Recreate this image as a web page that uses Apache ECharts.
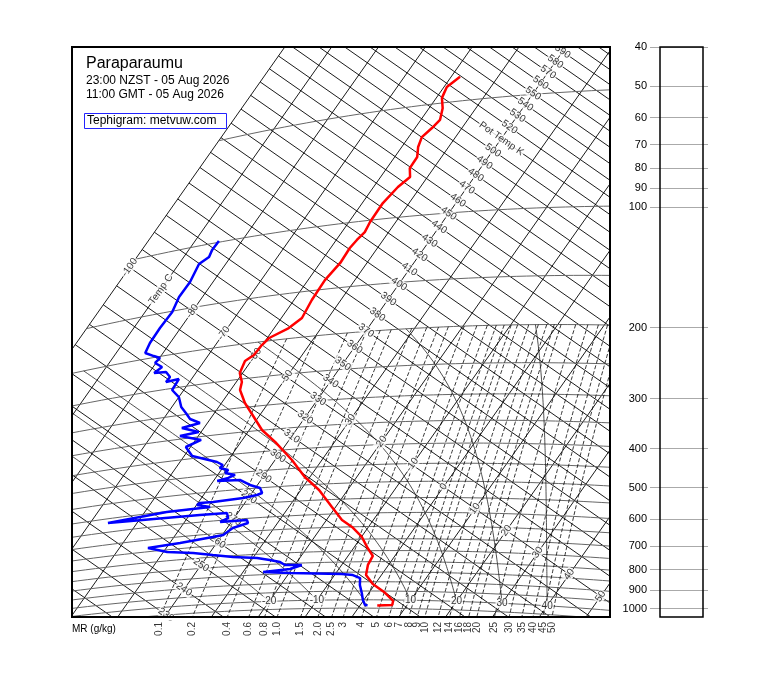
<!DOCTYPE html>
<html><head><meta charset="utf-8">
<script src="https://cdn.jsdelivr.net/npm/echarts@6.0.0/dist/echarts.min.js"></script>
<style>html,body{margin:0;padding:0;background:#fff}#c{width:760px;height:690px}</style>
</head><body><div id="c"></div>
<script>
// ---------------- data ----------------
const tempP = [42.9,45.3,48.4,51.7,55.6,58.2,61.2,65.0,69.2,73.9,78.2,82.6,90.5,101.1,107.4,112.3,117.6,128.4,141.6,159.2,177.2,187.1,196.5,204.4,216.5,223.4,240.3,254.9,267.8,291.9,320.6,349.5,379.2,427.1,476.3,517.6,575.3,623.0,650.6,691.1,733.4,773.6,815.4,864.7,911.6,955.0,1005.9,1029.7,1034];
const tempT = [-58.1,-59.4,-58.8,-57.1,-55.9,-56.4,-57.2,-56.5,-55.2,-55.1,-53.7,-54.8,-55.6,-55.5,-55.1,-55.6,-55.9,-55.7,-56.4,-56.2,-55.6,-56.9,-59.6,-60.1,-60.3,-61.3,-60.6,-58.8,-58.0,-55.0,-51.0,-47.3,-42.7,-36.4,-31.1,-26.1,-20.8,-16.7,-13.5,-9.9,-7.3,-4.7,-4.4,-3.3,-0.5,3.1,6.4,6.8,3.7];
const dewP = [99.2,104.5,109.1,112.9,126.1,137.5,150.8,165.5,180.7,192.1,198.1,202.1,207.7,215.0,221.7,223.2,231.6,238.4,236.8,252.7,266.3,284.7,297.3,310.1,320.6,326.3,339.4,343.0,357.7,369.8,393.5,415.8,425.3,432.6,440.1,447.7,455.8,462.7,468.4,471.6,488.9,500.5,516.5,521.9,528.2,533.0,532.4,538.2,549.1,551.6,565.3,574.0,575.1,593.5,605.9,606.0,617.5,632.7,657.7,662.7,676.0,683.9,709.8,724.6,740.8,756.2,767.3,779.7,791.3,806.7,809.7,827.3,836.8,847.3,859.0,864.7,880.3,917.2,960.8,1001.4,1031,1033];
const dewT = [-84.9,-85.0,-84.6,-85.7,-84.9,-85.0,-84.2,-84.4,-84.3,-83.8,-81.5,-79.9,-80.2,-78.1,-78.9,-76.5,-74.9,-75.0,-72.7,-72.5,-70.0,-68.0,-66.1,-64.3,-61.6,-64.7,-60.5,-63.9,-58.8,-61.0,-58.3,-52.1,-50.4,-50.6,-48.5,-48.7,-46.3,-47.3,-49.2,-44.5,-41.6,-39.0,-37.8,-38.6,-41.1,-46.9,-49.6,-49.9,-46.8,-55.3,-66.2,-47.8,-42.3,-41.3,-42.4,-37.0,-36.3,-38.8,-39.8,-41.7,-47.8,-53.9,-49.2,-43.5,-39.0,-34.4,-29.1,-26.1,-23.6,-22.1,-18.5,-20.4,-25.7,-19.8,-8.6,-6.1,-4.1,-3.1,-1.5,-0.2,1.0,1.6];

// grid levels and tick labels
const isotherms = [-100,-90,-80,-70,-60,-50,-40,-30,-20,-10,0,10,20,30,40,50];
const adiabats = [220,230,240,250,260,270,280,290,300,310,320,330,340,350,360,370,380,390,400,410,420,430,440,450,460,470,480,490,500,510,520,530,540,550,560,570,580,590,600,610,620];
const isobars = [50,100,150,200,250,300,350,400,450,500,550,600,650,700,750,800,850,900,950,1000,1050];
const mixingRatios = [0.1,0.2,0.4,0.6,0.8,1.0,1.5,2.0,2.5,3,4,5,6,7,8,9,10,12,14,16,18,20,25,30,35,40,45,50];
const mixingRatioLabels = ['0.1','0.2','0.4','0.6','0.8','1.0','1.5','2.0','2.5','3','4','5','6','7','8','9','10','12','14','16','18','20','25','30','35','40','45','50'];
const moistThetaW = [-20,-10,0,10,20,30,40];
const thetaWLabels = [-20,-10,10,20,30,40];
const tempLabels = [-100,-90,-80,-70,-60,-50,-30,-20,-10,0,10,20,30,40,50];
const thetaLabels = [230,240,250,260,270,280,290,300,310,320,330,340,350,360,370,380,390,400,410,420,430,440,450,460,470,480,490,500,510,520,530,540,550,560,570,580,590];
const pressureTicks = [40,50,60,70,80,90,100,200,300,400,500,600,700,800,900,1000];

// ---------------- tephigram projection ----------------
const KAPPA = 0.286;
const FONT = '"Liberation Sans", Arial, Helvetica, sans-serif';
function theta(T, p){ return (T + 273.15) * Math.pow(1000 / p, KAPPA); }
function proj(T, th){ const L = Math.log(th / 330); return [3.14 * (T + 40) + 421 * L, 2.193 * (T + 40) - 598 * L]; }
function projTP(T, p){ return proj(T, theta(T, p)); }
function esat(Tc){ return 6.112 * Math.exp(17.67 * Tc / (Tc + 243.5)); }
function mrTemp(w, p){ const e = w * p / 622; const l = Math.log(e / 6.112); return 243.5 * l / (17.67 - l); }
function dTdp(TK, p){
  const es = esat(TK - 273.15); const rs = 0.622 * es / (p - es);
  const num = 287.04 * TK + 2.501e6 * rs;
  const den = 1005.7 + (2.501e6 * 2.501e6 * rs * 0.622) / (287.04 * TK * TK);
  return num / den / p;
}
function moistAdiabat(tw){
  let T = tw + 273.15, p = 1000; const pts = [projTP(tw, p)]; const dp = -5;
  while (p > 200) {
    const k1 = dTdp(T, p); const k2 = dTdp(T + k1 * dp / 2, p + dp / 2);
    T += k2 * dp; p += dp;
    if (T - 273.15 < -100) break;
    pts.push(projTP(T - 273.15, p));
  }
  return pts;
}
function lineS(data, style, z){
  return {type:'line', data:data, symbol:'none', silent:true, animation:false, clip:true, z:z,
          xAxisIndex:0, yAxisIndex:0, lineStyle:style};
}
const series = [];
const G = {color:'#000', width:0.9};
isotherms.forEach(T => series.push(lineS([proj(T,150), proj(T,900)], G, 2)));
adiabats.forEach(th => series.push(lineS([proj(-100,th), proj(70,th)], G, 2)));
isobars.forEach(p => { const d=[]; for (let T=-100; T<=70; T+=2) d.push(projTP(T,p)); series.push(lineS(d, {color:'#666', width:1}, 2)); });
const mrLabelItems = [];
const BOTTOM = 218;
mixingRatios.forEach((w,i) => {
  const d=[]; for (let p=200; p<=1250; p+=5) d.push(projTP(mrTemp(w,p),p));
  series.push(lineS(d, {color:'#000', width:0.8, type:[4,2]}, 2));
  for (let k=0; k<d.length-1; k++) {
    if (d[k][1] <= BOTTOM && d[k+1][1] > BOTTOM) {
      const f = (BOTTOM - d[k][1]) / (d[k+1][1] - d[k][1]);
      mrLabelItems.push({name: mixingRatioLabels[i], value:[d[k][0] + f*(d[k+1][0]-d[k][0]), BOTTOM + 5]});
      break;
    }
  }
});
moistThetaW.forEach(tw => series.push(lineS(moistAdiabat(tw), {color:'#222', width:0.8}, 2)));

// profiles
series.push(lineS(tempP.map((p,i) => projTP(tempT[i], p)), {color:'#ff0000', width:2.5}, 10));
series.push(lineS(dewP.map((p,i) => projTP(dewT[i], p)), {color:'#0000ff', width:2.5}, 10));

function labelS(items, lab){
  return {type:'scatter', xAxisIndex:0, yAxisIndex:0, symbolSize:1, itemStyle:{color:'transparent'},
    silent:true, animation:false, clip:false, z:4, data:items,
    label:Object.assign({show:true, position:'inside', formatter:'{b}', color:'#000', fontSize:10, fontFamily:FONT}, lab)};
}
series.push(labelS(tempLabels.map(T => ({name: T === -90 ? 'Temp C' : String(T), value: proj(T, 330)})),
  {rotate:54.85, backgroundColor:'#fff', padding:[0,1]}));
series.push(labelS(thetaLabels.map(th => ({name: th === 510 ? 'Pot Temp K' : String(th), value: proj(-40, th)})),
  {rotate:-34.9, backgroundColor:'#fff', padding:[0,1]}));
series.push(labelS(thetaWLabels.map(tw => ({name:String(tw), value: projTP(tw, 1000)})),
  {backgroundColor:'#fff', padding:[0,1]}));
series.push(labelS(mrLabelItems, {rotate:90, align:'right', verticalAlign:'middle'}));

// right panel pressure scale
series.push({type:'line', xAxisIndex:1, yAxisIndex:1, data:[[0.5,500]], symbol:'none', silent:true, animation:false,
  lineStyle:{opacity:0},
  markLine:{silent:true, symbol:['none','none'], animation:false,
    lineStyle:{color:'#aaa', width:1, type:'solid'},
    label:{show:true, position:'start', formatter:'{b}', color:'#000', fontSize:11, fontFamily:FONT, distance:3},
    data: pressureTicks.map(p => ({name:String(p), yAxis:p}))}});

function txt(x, y, s, size){
  return {type:'text', x:x, y:y, z:70, silent:true,
    style:{text:s, fill:'#000', font:size+'px '+FONT, align:'left', verticalAlign:'middle', textAlign:'left', textVerticalAlign:'middle'}};
}
const chart = echarts.init(document.getElementById('c'), null, {renderer:'canvas'});
chart.setOption({
  animation:false,
  backgroundColor:'#fff',
  grid:[{left:72, top:47, width:538, height:570, show:false}, {left:650, top:47, width:58, height:570, show:false}],
  xAxis:[{gridIndex:0, type:'value', min:-246, max:292, show:false, splitLine:{show:false}},
         {gridIndex:1, type:'value', min:0, max:1, show:false, splitLine:{show:false}}],
  yAxis:[{gridIndex:0, type:'value', min:-352, max:218, inverse:true, show:false, splitLine:{show:false}},
         {gridIndex:1, type:'log', min:40, max:1050, inverse:true, show:false, splitLine:{show:false}}],
  series:series,
  graphic:[
    {type:'rect', z:50, silent:true, shape:{x:60, y:0, width:560, height:46}, style:{fill:'#fff'}},
    {type:'rect', z:50, silent:true, shape:{x:72, y:618, width:538, height:2.5}, style:{fill:'#fff'}},
    {type:'rect', z:60, silent:true, shape:{x:72, y:47, width:538, height:570}, style:{fill:'none', stroke:'#000', lineWidth:2}},
    {type:'rect', z:60, silent:true, shape:{x:660, y:47, width:43, height:570}, style:{fill:'none', stroke:'#000', lineWidth:1.5}},
    {type:'rect', z:60, silent:true, shape:{x:84.5, y:113.5, width:142, height:15}, style:{fill:'#fff', stroke:'#2222ff', lineWidth:1}},
    txt(86, 63.5, 'Paraparaumu', 16),
    txt(86, 81, '23:00 NZST - 05 Aug 2026', 12),
    txt(86, 94.5, '11:00 GMT - 05 Aug 2026', 12),
    txt(87, 121, 'Tephigram: metvuw.com', 12),
    txt(72, 629, 'MR (g/kg)', 10)
  ]
});
</script></body></html>
